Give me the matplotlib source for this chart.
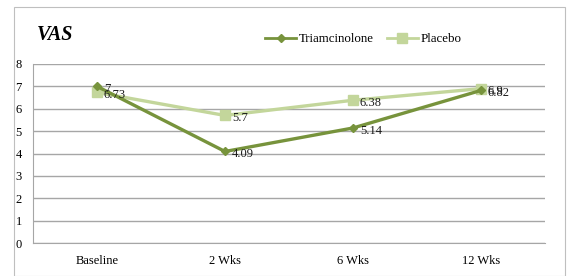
import matplotlib
matplotlib.use("Agg")
import matplotlib.pyplot as plt
from matplotlib.patches import Rectangle

categories = ["Baseline", "2 Wks", "6 Wks", "12 Wks"]
triamcinolone = [7, 4.09, 5.14, 6.82]
placebo = [6.73, 5.7, 6.38, 6.9]

DARK = "#77933C"
LIGHT = "#C3D69B"
GRID = "#A6A6A6"

plt.rcParams["font.family"] = ["Liberation Serif", "DejaVu Serif"]

fig = plt.figure(figsize=(5.68, 2.76), dpi=100)
fig.patches.append(Rectangle((14 / 568, 0.0), 0.995 - 14 / 568, 1 - 7 / 276,
                             transform=fig.transFigure, fill=False,
                             edgecolor="#BFBFBF", linewidth=0.8))

ax = fig.add_axes([33 / 568, 33 / 276, 512 / 568, 179 / 276])
x = range(len(categories))

ax.plot(x, placebo, color=LIGHT, linewidth=2.4, marker="s", markersize=7,
        label="Placebo", zorder=3)
ax.plot(x, triamcinolone, color=DARK, linewidth=2.4, marker="D", markersize=4.5,
        label="Triamcinolone", zorder=4)

for xi, v in zip(x, triamcinolone):
    ax.annotate(f"{v:g}", (xi, v), xytext=(5, -2), textcoords="offset points",
                ha="left", va="center", fontsize=9, color="#1a1a1a", zorder=5)
for xi, v in zip(x, placebo):
    ax.annotate(f"{v:g}", (xi, v), xytext=(5, -2), textcoords="offset points",
                ha="left", va="center", fontsize=9, color="#1a1a1a", zorder=5)

ax.set_xlim(-0.5, 3.5)
ax.set_ylim(0, 8)
ax.set_yticks(range(0, 9))
ax.set_xticks(list(x))
ax.set_xticklabels(categories)
ax.yaxis.grid(True, color=GRID, linewidth=1.0)
ax.set_axisbelow(True)
for side in ["top", "right"]:
    ax.spines[side].set_visible(False)
ax.spines["left"].set_color(GRID)
ax.spines["bottom"].set_color(GRID)
ax.tick_params(axis="both", length=0, labelsize=9)
ax.tick_params(axis="y", pad=8)
ax.tick_params(axis="x", pad=9)

handles, labels = ax.get_legend_handles_labels()
for h in handles:
    pass
leg = fig.legend(handles[::-1], labels[::-1], loc="center left",
                 bbox_to_anchor=(265 / 568, 1 - 39 / 276), ncol=2, frameon=False,
                 fontsize=9.3, handlelength=2.4, handletextpad=0.2, columnspacing=1.0,
                 borderaxespad=0, borderpad=0)
for line in leg.get_lines():
    line.set_linewidth(2.0)

fig.text(37 / 568, 1 - 35 / 276, "VAS", fontsize=14.5, fontweight="bold",
         fontstyle="italic", ha="left", va="center")

fig.savefig("out.png", dpi=100, facecolor="white")
